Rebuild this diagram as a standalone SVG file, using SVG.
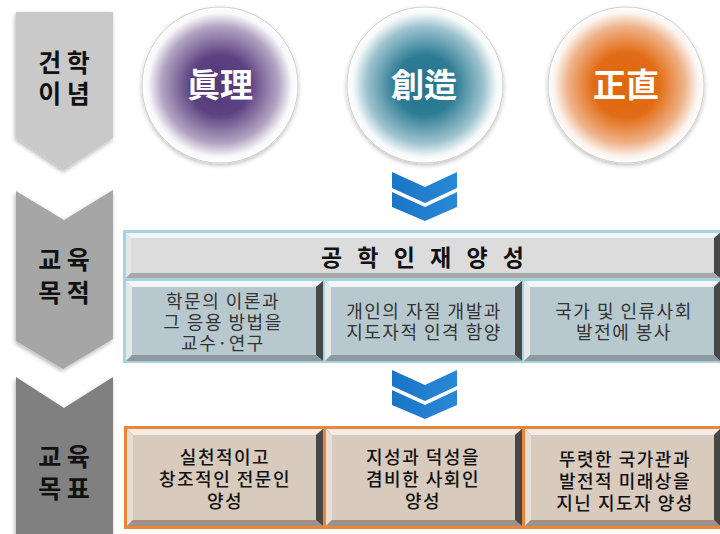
<svg xmlns="http://www.w3.org/2000/svg" width="720" height="534" viewBox="0 0 720 534">
<defs>
<style>
text{font-family:"Noto Sans CJK KR","Noto Sans",sans-serif;}
.lbl{font-size:25px;font-weight:bold;fill:#111;text-anchor:middle;}
.cir{font-size:33px;font-weight:bold;fill:#fff;text-anchor:middle;}
.mt{font-size:18px;fill:#333;text-anchor:middle;letter-spacing:1.5px;}
.bt{font-size:18px;fill:#111;text-anchor:middle;letter-spacing:1.5px;font-weight:500;}
.hd{font-size:23px;font-weight:bold;fill:#111;text-anchor:middle;letter-spacing:5px;}
.blue{fill:url(#gBlue);}
.bvT{fill:#f4f6f6;} .bvL{fill:#e4e8e9;} .bvR{fill:#474747;} .bvB{fill:#8e9a9d;}
.bvTo{fill:#f3ece6;} .bvLo{fill:#e6ddd5;} .bvBo{fill:#9d9189;}
.faceG{fill:#dcdcdc;} .faceB{fill:#b7c9ce;} .faceO{fill:#d8cabd;}
</style>
<radialGradient id="gPur" cx="0.5" cy="0.5" r="0.5">
<stop offset="0" stop-color="#573b7b"/><stop offset="0.38" stop-color="#5b4080"/><stop offset="0.75" stop-color="#b2a4c2"/><stop offset="0.92" stop-color="#f8f7fa"/><stop offset="1" stop-color="#ffffff"/>
</radialGradient>
<radialGradient id="gTeal" cx="0.5" cy="0.5" r="0.5">
<stop offset="0" stop-color="#28768e"/><stop offset="0.38" stop-color="#2d7b93"/><stop offset="0.75" stop-color="#9dc3cf"/><stop offset="0.92" stop-color="#f5f9fa"/><stop offset="1" stop-color="#ffffff"/>
</radialGradient>
<radialGradient id="gOra" cx="0.5" cy="0.5" r="0.5">
<stop offset="0" stop-color="#df660d"/><stop offset="0.42" stop-color="#e26c14"/><stop offset="0.75" stop-color="#efb38a"/><stop offset="0.92" stop-color="#fbf3ee"/><stop offset="1" stop-color="#ffffff"/>
</radialGradient>
<linearGradient id="gBlue" x1="0" y1="0" x2="1" y2="0">
<stop offset="0" stop-color="#1b74c6"/><stop offset="1" stop-color="#2a88d8"/>
</linearGradient>
<filter id="sh" x="-20%" y="-20%" width="140%" height="140%">
<feDropShadow dx="-1" dy="2" stdDeviation="2" flood-color="#000" flood-opacity="0.3"/>
</filter>
<filter id="csh" x="-20%" y="-20%" width="140%" height="140%">
<feDropShadow dx="0" dy="2" stdDeviation="2" flood-color="#000" flood-opacity="0.25"/>
</filter>
</defs>

<g id="chevrons-left">
<g id="label-philosophy">
<polygon points="16,12 113,12 113,138 64,170 16,138" fill="#c9c9c9" filter="url(#sh)"/>
<text class="lbl" x="64" y="72">건 학<tspan x="64" dy="31">이 념</tspan></text>
</g>
<g id="label-purpose">
<polygon points="16,191 64,220 113,190 113,339 63,369 16,341" fill="#a6a6a6" filter="url(#sh)"/>
<text class="lbl" x="64" y="269">교 육<tspan x="64" dy="33">목 적</tspan></text>
</g>
<g id="label-goal">
<polygon points="16,377 64,408 113,377 113,540 16,540" fill="#808080" filter="url(#sh)"/>
<text class="lbl" x="64" y="466">교 육<tspan x="64" dy="32">목 표</tspan></text>
</g>
</g>

<g id="circle-truth">
<circle cx="220" cy="85" r="78" fill="url(#gPur)" stroke="#d0d0d0" stroke-width="1" filter="url(#csh)"/>
<text class="cir" x="220" y="97">眞理</text>
</g>
<g id="circle-creation">
<circle cx="425" cy="85" r="78" fill="url(#gTeal)" stroke="#d0d0d0" stroke-width="1" filter="url(#csh)"/>
<text class="cir" x="424" y="97">創造</text>
</g>
<g id="circle-integrity">
<circle cx="626" cy="85" r="78" fill="url(#gOra)" stroke="#d0d0d0" stroke-width="1" filter="url(#csh)"/>
<text class="cir" x="626" y="97">正直</text>
</g>

<g id="connectors">
<g id="arrow1">
<polygon class="blue" points="392,172 425,187 457,172 457,188 425,203 392,188"/>
<polygon class="blue" points="392,192 425,207 457,192 457,207 425,221 392,207"/>
</g>
<g id="arrow2" transform="translate(0,198)">
<polygon class="blue" points="392,172 425,187 457,172 457,188 425,203 392,188"/>
<polygon class="blue" points="392,192 425,207 457,192 457,207 425,221 392,207"/>
</g>
</g>

<g id="purpose-panel">
<rect x="123" y="230" width="600" height="133" fill="#a5d4e0"/>
<g id="purpose-header">
<polygon class="bvT" points="126,233 720,233 714,238 131,238"/>
<polygon class="bvL" points="126,233 131,238 131,273 126,278"/>
<polygon class="bvR" points="720,233 720,278 714,273 714,238"/>
<rect class="faceG" x="131" y="238" width="583" height="35"/>
<polygon points="126,278 720,278 714,273 131,273" fill="#a8a8a8"/>
<text class="hd" x="425" y="266">공 학 인 재 양 성</text>
</g>
<g id="purpose-1">
<polygon class="bvT" points="126,281 323,281 316,287 132,287"/>
<polygon class="bvL" points="126,281 132,287 132,355 126,361"/>
<polygon class="bvR" points="323,281 323,361 316,355 316,287"/>
<polygon class="bvB" points="126,361 323,361 316,355 132,355"/>
<rect class="faceB" x="132" y="287" width="184" height="68"/>
<text class="mt" x="223" y="308">학문의 이론과<tspan x="223" dy="21">그 응용 방법을</tspan><tspan x="223" dy="21">교수·연구</tspan></text>
</g>
<g id="purpose-2">
<polygon class="bvT" points="325,281 522,281 515,287 331,287"/>
<polygon class="bvL" points="325,281 331,287 331,355 325,361"/>
<polygon class="bvR" points="522,281 522,361 515,355 515,287"/>
<polygon class="bvB" points="325,361 522,361 515,355 331,355"/>
<rect class="faceB" x="331" y="287" width="184" height="68"/>
<text class="mt" x="424" y="318">개인의 자질 개발과<tspan x="424" dy="21">지도자적 인격 함양</tspan></text>
</g>
<g id="purpose-3">
<polygon class="bvT" points="524,281 720,281 714,287 530,287"/>
<polygon class="bvL" points="524,281 530,287 530,355 524,361"/>
<polygon class="bvR" points="720,281 720,361 714,355 714,287"/>
<polygon class="bvB" points="524,361 720,361 714,355 530,355"/>
<rect class="faceB" x="530" y="287" width="184" height="68"/>
<text class="mt" x="624" y="318">국가 및 인류사회<tspan x="624" dy="21">발전에 봉사</tspan></text>
</g>
</g>

<g id="goal-panel">
<rect x="124" y="426" width="600" height="103" fill="#e8873b"/>
<g id="goal-1">
<polygon class="bvTo" points="127,429 323,429 316,435 133,435"/>
<polygon class="bvLo" points="127,429 133,435 133,520 127,526"/>
<polygon class="bvR" points="323,429 323,526 316,520 316,435"/>
<polygon class="bvBo" points="127,526 323,526 316,520 133,520"/>
<rect class="faceO" x="133" y="435" width="183" height="85"/>
<text class="bt" x="225" y="464">실천적이고<tspan x="225" dy="22">창조적인 전문인</tspan><tspan x="225" dy="22">양성</tspan></text>
</g>
<g id="goal-2">
<polygon class="bvTo" points="326,429 522,429 515,435 332,435"/>
<polygon class="bvLo" points="326,429 332,435 332,520 326,526"/>
<polygon class="bvR" points="522,429 522,526 515,520 515,435"/>
<polygon class="bvBo" points="326,526 522,526 515,520 332,520"/>
<rect class="faceO" x="332" y="435" width="183" height="85"/>
<text class="bt" x="423" y="464">지성과 덕성을<tspan x="423" dy="22">겸비한 사회인</tspan><tspan x="423" dy="22">양성</tspan></text>
</g>
<g id="goal-3">
<polygon class="bvTo" points="525,429 720,429 714,435 531,435"/>
<polygon class="bvLo" points="525,429 531,435 531,520 525,526"/>
<polygon class="bvR" points="720,429 720,526 714,520 714,435"/>
<polygon class="bvBo" points="525,526 720,526 714,520 531,520"/>
<rect class="faceO" x="531" y="435" width="183" height="85"/>
<text class="bt" x="625" y="466">뚜렷한 국가관과<tspan x="625" dy="22">발전적 미래상을</tspan><tspan x="625" dy="22">지닌 지도자 양성</tspan></text>
</g>
</g>
</svg>
